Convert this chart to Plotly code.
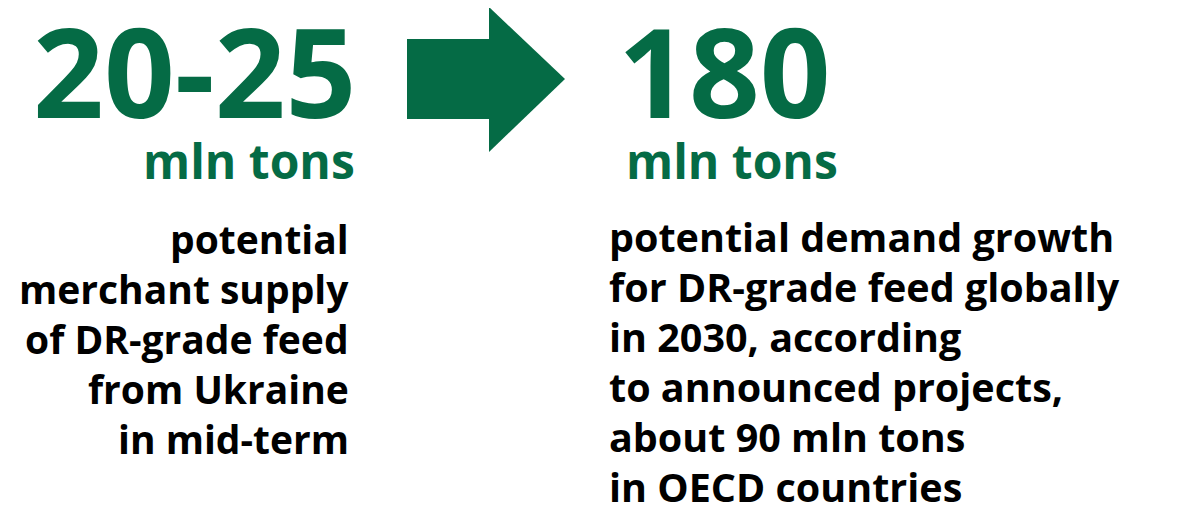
import plotly.graph_objects as go

# ---- data (text content) ----
big_values = ["20-25", "180"]
unit_label = "mln tons"
left_lines = ["potential", "merchant supply", "of DR-grade feed", "from Ukraine", "in mid-term"]
right_lines = ["potential demand growth", "for DR-grade feed globally", "in 2030, according",
               "to announced projects,", "about 90 mln tons", "in OECD countries"]

GREEN = "#056B45"
FONT = "Open Sans"
W, H = 1178, 509
OFF = 8  # page body margin: makes data coords equal window pixels

fig = go.Figure()
fig.add_trace(go.Scatter(x=[OFF, W], y=[OFF, H], mode="markers", marker=dict(opacity=0),
                         hoverinfo="skip", showlegend=False))

ann = []
big_font = dict(family=FONT, size=124, color=GREEN, weight=750)
unit_font = dict(family=FONT, size=48, color=GREEN, weight=750)
left_font = dict(family=FONT, size=39, color="#000000", weight=750)
right_font = dict(family=FONT, size=39.5, color="#000000", weight=750)

ann.append(dict(x=359, y=69, text=big_values[0], xanchor="right", yanchor="middle", font=big_font))
ann.append(dict(x=616, y=69, text=big_values[1], xanchor="left", yanchor="middle", font=big_font))
ann.append(dict(x=357, y=160, text=unit_label, xanchor="right", yanchor="middle", font=unit_font))
ann.append(dict(x=840, y=160, text=unit_label, xanchor="right", yanchor="middle", font=unit_font))

pitch = 50
for i, line in enumerate(left_lines):
    ann.append(dict(x=351, y=238 + i * pitch, text=line, xanchor="right", yanchor="middle", font=left_font))
for i, line in enumerate(right_lines):
    ann.append(dict(x=607, y=237 + i * pitch, text=line, xanchor="left", yanchor="middle", font=right_font))

for a in ann:
    a.update(xref="x", yref="y", showarrow=False)

shapes = [
    dict(type="rect", xref="x", yref="y", x0=407, x1=490, y0=39, y1=119,
         fillcolor=GREEN, line=dict(width=0)),
    dict(type="path", xref="x", yref="y", path="M 489 7 L 565 79 L 489 152 Z",
         fillcolor=GREEN, line=dict(width=0)),
]

fig.update_layout(
    width=W, height=H,
    margin=dict(l=0, r=0, t=0, b=0),
    paper_bgcolor="white", plot_bgcolor="white",
    xaxis=dict(range=[OFF, W + OFF], visible=False, fixedrange=True),
    yaxis=dict(range=[H + OFF, OFF], visible=False, fixedrange=True),
    annotations=ann, shapes=shapes, showlegend=False,
)
fig.write_html("out.html")
